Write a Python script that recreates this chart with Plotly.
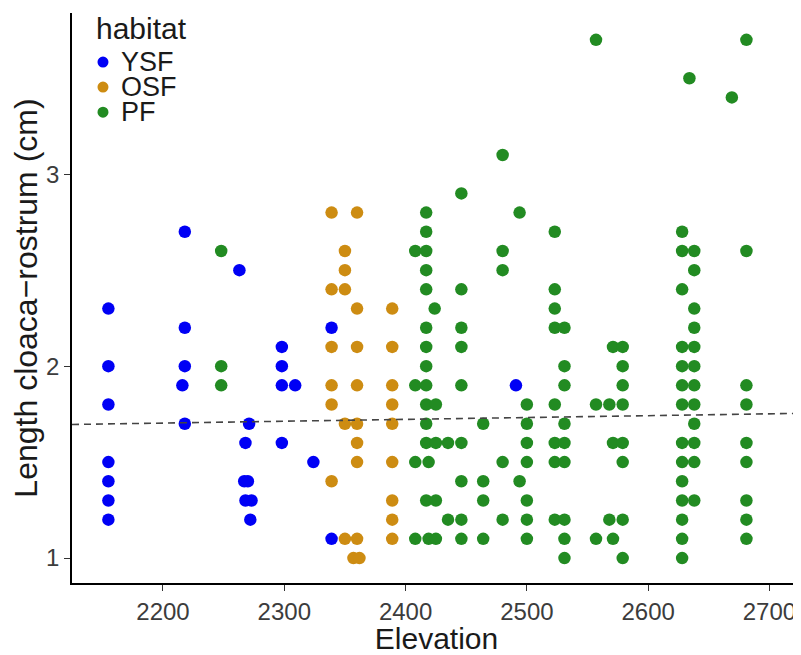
import plotly.graph_objects as go

# ---- data ----
ysf_elev = [2155, 2155, 2155, 2155, 2155, 2155, 2155,
            2218, 2218, 2218, 2216, 2218,
            2263,
            2271, 2268, 2267, 2270, 2268, 2273, 2272,
            2298, 2298, 2298, 2298, 2309,
            2324,
            2339, 2339,
            2491]
ysf_len = [2.3, 2.0, 1.8, 1.5, 1.4, 1.3, 1.2,
           2.7, 2.2, 2.0, 1.9, 1.7,
           2.5,
           1.7, 1.6, 1.4, 1.4, 1.3, 1.3, 1.2,
           2.1, 2.0, 1.9, 1.6, 1.9,
           1.5,
           2.2, 1.1,
           1.9]

osf_elev = [2339, 2339, 2339, 2339, 2339, 2339,
            2350, 2350, 2350, 2350, 2350,
            2360, 2360, 2360, 2360, 2360, 2360, 2360, 2360,
            2357, 2362,
            2389, 2389, 2389, 2389, 2389, 2389, 2389, 2389, 2389]
osf_len = [2.8, 2.4, 2.1, 1.9, 1.8, 1.4,
           2.6, 2.5, 2.4, 1.7, 1.1,
           2.8, 2.3, 2.1, 1.9, 1.7, 1.6, 1.5, 1.1,
           1.0, 1.0,
           2.3, 2.1, 1.9, 1.8, 1.7, 1.5, 1.3, 1.2, 1.1]

pf_elev = [2248, 2248, 2248,
           2408, 2408, 2408, 2408,
           2417, 2417, 2417, 2417, 2417, 2417, 2417, 2417, 2417, 2417, 2417, 2417, 2417,
           2424, 2419, 2419,
           2425, 2425, 2425, 2425,
           2435, 2435,
           2446, 2446, 2446, 2446, 2446, 2446, 2446, 2446, 2446,
           2464, 2464, 2464, 2464,
           2480, 2480, 2480, 2480, 2480,
           2494, 2494,
           2500, 2500, 2500, 2500, 2500, 2500, 2500,
           2523, 2523, 2523, 2523, 2523, 2523, 2523, 2523,
           2531, 2531, 2531, 2531, 2531, 2531, 2531, 2531, 2531,
           2557, 2557,
           2557,
           2568, 2568,
           2571, 2571, 2571,
           2579, 2579, 2579, 2579, 2579, 2579, 2579, 2579,
           2628, 2628, 2628, 2628, 2628, 2628, 2628, 2628, 2628, 2628, 2628, 2628, 2628, 2628,
           2638, 2638, 2638, 2638, 2638, 2638, 2638, 2638, 2638, 2638, 2638, 2638,
           2669, 2634,
           2681, 2681, 2681, 2681, 2681, 2681, 2681, 2681, 2681]
pf_len = [2.6, 2.0, 1.9,
          2.6, 1.9, 1.5, 1.1,
          2.8, 2.7, 2.6, 2.5, 2.4, 2.2, 2.1, 2.0, 1.9, 1.8, 1.7, 1.6, 1.3,
          2.3, 1.5, 1.1,
          1.8, 1.6, 1.3, 1.1,
          1.6, 1.2,
          2.9, 2.4, 2.2, 2.1, 1.9, 1.6, 1.4, 1.2, 1.1,
          1.7, 1.4, 1.3, 1.1,
          3.1, 2.6, 2.5, 1.5, 1.2,
          2.8, 1.4,
          1.8, 1.7, 1.6, 1.5, 1.3, 1.2, 1.1,
          2.7, 2.4, 2.3, 2.2, 1.8, 1.6, 1.5, 1.2,
          2.2, 2.0, 1.9, 1.7, 1.6, 1.5, 1.2, 1.1, 1.0,
          1.8, 1.1,
          3.7,
          1.8, 1.2,
          2.1, 1.6, 1.1,
          2.1, 2.0, 1.9, 1.8, 1.6, 1.5, 1.2, 1.0,
          2.7, 2.6, 2.4, 2.1, 2.0, 1.9, 1.8, 1.6, 1.5, 1.4, 1.3, 1.2, 1.1, 1.0,
          2.6, 2.5, 2.3, 2.2, 2.1, 2.0, 1.9, 1.8, 1.7, 1.6, 1.5, 1.3,
          3.4, 3.5,
          3.7, 2.6, 1.9, 1.8, 1.6, 1.5, 1.3, 1.2, 1.1]

trend_x = [2125, 2726]
trend_y = [1.696, 1.754]

x_ticks = [2200, 2300, 2400, 2500, 2600, 2700]
y_ticks = [1, 2, 3]

habitats = ["YSF", "OSF", "PF"]
colors = {"YSF": "#0000F5", "OSF": "#CD8C12", "PF": "#228B22"}
legend_title = "habitat"

FONT = "Liberation Sans, Arial, sans-serif"

fig = go.Figure()
for name, xs, ys in [("YSF", ysf_elev, ysf_len), ("OSF", osf_elev, osf_len), ("PF", pf_elev, pf_len)]:
    fig.add_trace(go.Scatter(x=xs, y=ys, mode="markers", name=name, showlegend=False,
                             marker=dict(size=12.5, color=colors[name], line=dict(width=0))))

fig.add_trace(go.Scatter(x=trend_x, y=trend_y, mode="lines", showlegend=False,
                         line=dict(color="#444444", width=1.6, dash="7px,5px")))

# manual legend (ggplot-like, compact)
leg_x_dot = 0.0425
leg_x_txt = 0.064
leg_y = [0.914, 0.870, 0.826]
shapes = []
annotations = [dict(text=legend_title, xref="paper", yref="paper", x=0.030, y=0.972,
                    xanchor="left", yanchor="middle", showarrow=False,
                    font=dict(family=FONT, size=30, color="#1a1a1a"))]
for h, yy in zip(habitats, leg_y):
    shapes.append(dict(type="circle", xref="paper", yref="paper", xsizemode="pixel", ysizemode="pixel",
                       xanchor=leg_x_dot, yanchor=yy, x0=-5.5, x1=5.5, y0=-5.5, y1=5.5,
                       fillcolor=colors[h], line=dict(width=0)))
    annotations.append(dict(text=h, xref="paper", yref="paper", x=leg_x_txt, y=yy,
                            xanchor="left", yanchor="middle", showarrow=False,
                            font=dict(family=FONT, size=27, color="#1a1a1a")))

axis_font = dict(family=FONT, size=24, color="#3C3C3C")

fig.update_layout(
    width=793, height=647,
    margin=dict(l=64, r=0, t=5, b=72),
    paper_bgcolor="white", plot_bgcolor="white",
    xaxis=dict(range=[2125, 2726], tickvals=x_ticks, ticks="outside", ticklen=6, tickwidth=1.3,
               tickcolor="#333", showline=True, linecolor="black", linewidth=1.8,
               showgrid=False, zeroline=False, tickfont=axis_font,
               title=dict(text="Elevation", font=dict(family=FONT, size=30, color="#1a1a1a"), standoff=4)),
    yaxis=dict(range=[0.87, 3.84], tickvals=y_ticks, ticks="outside", ticklen=6, tickwidth=1.3,
               tickcolor="#333", showline=True, linecolor="black", linewidth=1.8,
               showgrid=False, zeroline=False, tickfont=axis_font,
               title=dict(text="Length cloaca\u2212rostrum (cm)", font=dict(family=FONT, size=32, color="#1a1a1a"), standoff=4)),
    shapes=shapes,
    annotations=annotations,
    showlegend=False,
)

fig.write_html("out.html")
